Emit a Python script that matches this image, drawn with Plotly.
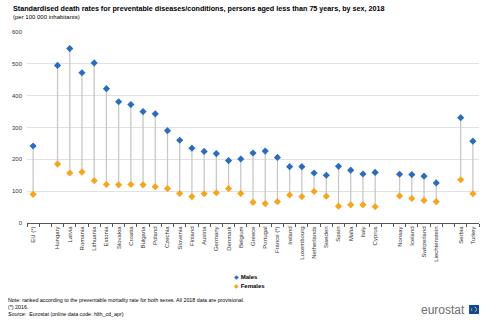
import plotly.graph_objects as go

# Countries in display order; blank entries are spacer slots between groups
countries = ["EU (*)", " ", "Hungary", "Latvia", "Romania", "Lithuania", "Estonia",
             "Slovakia", "Croatia", "Bulgaria", "Poland", "Czechia", "Slovenia",
             "Finland", "Austria", "Germany", "Denmark", "Belgium", "Greece",
             "Portugal", "France (*)", "Ireland", "Luxembourg", "Netherlands",
             "Sweden", "Spain", "Malta", "Italy", "Cyprus", "  ", "Norway",
             "Iceland", "Switzerland", "Liechtenstein", "   ", "Serbia", "Turkey"]

males = [242, None, 495, 548, 472, 503, 422, 381, 372, 350, 343, 290, 260,
         235, 225, 218, 196, 201, 220, 226, 206, 177, 177, 157, 150, 178, 166,
         154, 159, None, 153, 152, 147, 126, None, 331, 257]

females = [90, None, 185, 157, 160, 133, 121, 120, 121, 120, 114, 108, 93,
           83, 92, 95, 108, 93, 65, 61, 67, 88, 83, 99, 84, 53, 57, 57, 51,
           None, 85, 77, 71, 67, None, 136, 92]

BLUE = "#2b6dbd"
ORANGE = "#f8a51e"
FONT = "Liberation Sans, Arial, sans-serif"

W, H = 500, 328
ML, MR, MT, MB = 23, 21, 32, 105


def px(xp):
    return (xp - ML) / (W - ML - MR)


def py(yp):
    return (H - MB - yp) / (H - MT - MB)


# connector segments between the two sexes for each country
seg_x, seg_y = [], []
for c, m, f in zip(countries, males, females):
    if m is None or f is None:
        continue
    seg_x += [c, c, None]
    seg_y += [f, m, None]

fig = go.Figure()
fig.add_trace(go.Scatter(x=seg_x, y=seg_y, mode="lines",
                         line=dict(color="#c8c8c8", width=1.3),
                         hoverinfo="skip", showlegend=False))
fig.add_trace(go.Scatter(x=countries, y=males, mode="markers", name="Males",
                         marker=dict(symbol="diamond", size=5.5, color=BLUE),
                         showlegend=False))
fig.add_trace(go.Scatter(x=countries, y=females, mode="markers", name="Females",
                         marker=dict(symbol="diamond", size=5.5, color=ORANGE),
                         showlegend=False))

annotations = [
    dict(x=px(7), y=py(8), text="<b>Standardised death rates for preventable diseases/conditions, persons aged less than 75 years, by sex, 2018</b>",
         font=dict(size=7.2, color="#000")),
    dict(x=px(7), y=py(17), text="(per 100 000 inhabitants)",
         font=dict(size=6, color="#000")),
    dict(x=px(230), y=py(277), text=f"<span style='color:{BLUE}'>◆</span> <b>Males</b>",
         font=dict(size=6, color="#000")),
    dict(x=px(230), y=py(286), text=f"<span style='color:{ORANGE}'>◆</span> <b>Females</b>",
         font=dict(size=6, color="#000")),
    dict(x=px(2), y=py(300), text="Note: ranked according to the preventable mortality rate for both sexes. All 2018 data are provisional.",
         font=dict(size=5.3, color="#000")),
    dict(x=px(2), y=py(307), text="(*) 2016.",
         font=dict(size=5.3, color="#000")),
    dict(x=px(2), y=py(314), text="<i>Source:</i>  Eurostat (online data code: hlth_cd_apr)",
         font=dict(size=5.3, color="#000")),
    dict(x=px(418), y=py(309.5), text="eurostat",
         font=dict(size=12, color="#6d6e70")),
]
for a in annotations:
    a.update(xref="paper", yref="paper", xanchor="left", yanchor="middle",
             showarrow=False)

shapes = [
    dict(type="rect", xref="paper", yref="paper",
         x0=px(469), x1=px(479), y0=py(314), y1=py(305),
         fillcolor="#0e47a1", line=dict(width=0)),
    dict(type="circle", xref="paper", yref="paper",
         x0=px(471.5), x1=px(476.5), y0=py(312), y1=py(307),
         line=dict(color="#ffdd00", width=0.8, dash="dot")),
]

fig.update_layout(
    width=W, height=H,
    margin=dict(l=ML, r=MR, t=MT, b=MB),
    paper_bgcolor="white", plot_bgcolor="white",
    font=dict(family=FONT, size=6, color="#333"),
    annotations=annotations, shapes=shapes,
    xaxis=dict(type="category", categoryorder="array", categoryarray=countries,
               range=[-0.5, len(countries) - 0.5], showgrid=False,
               showline=True, linecolor="#555", linewidth=1,
               ticks="outside", tickson="boundaries", ticklen=3,
               tickcolor="#555", tickangle=-90,
               tickfont=dict(size=6, color="#333")),
    yaxis=dict(range=[0, 600], dtick=100, showgrid=True, gridcolor="#e2e2e2",
               gridwidth=1, zeroline=False, showline=False,
               ticklabelstandoff=4, tickfont=dict(size=6, color="#333")),
    hovermode="closest",
)

fig.write_html("out.html")
